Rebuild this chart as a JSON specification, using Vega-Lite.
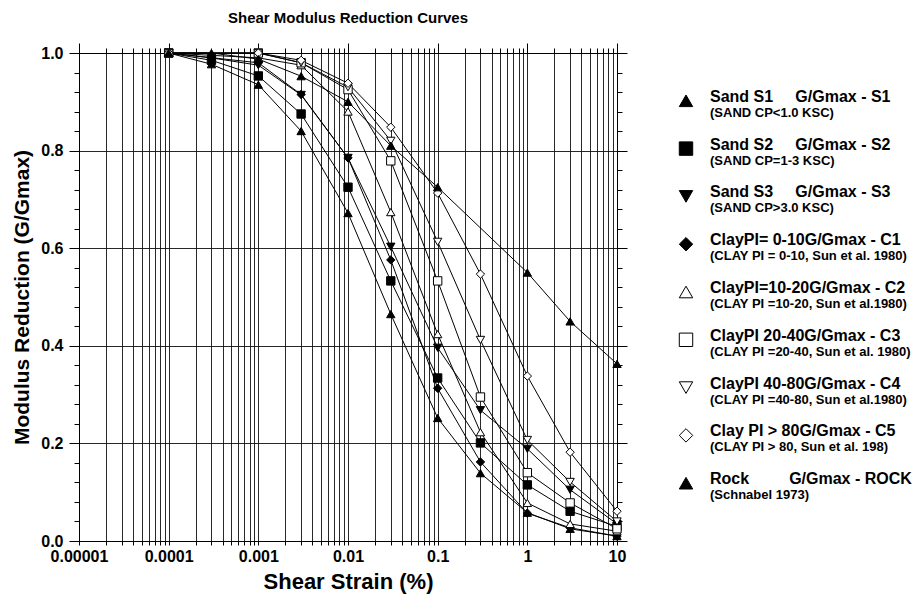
{
  "$schema": "https://vega.github.io/schema/vega-lite/v6.json",
  "background": "white",
  "padding": {"left": 11, "top": 10, "right": 5, "bottom": 4},
  "config": {"font": "Liberation Sans", "view": {"stroke": null}, "concat": {"spacing": 46}},
  "datasets": {
    "curves": [
      {"series": "S1", "strain": 0.0001, "G": 1.0}, {"series": "S1", "strain": 0.0003, "G": 0.977}, {"series": "S1", "strain": 0.001, "G": 0.935}, {"series": "S1", "strain": 0.003, "G": 0.84}, {"series": "S1", "strain": 0.01, "G": 0.672}, {"series": "S1", "strain": 0.03, "G": 0.465}, {"series": "S1", "strain": 0.1, "G": 0.252}, {"series": "S1", "strain": 0.3, "G": 0.139}, {"series": "S1", "strain": 1, "G": 0.058}, {"series": "S1", "strain": 3, "G": 0.025}, {"series": "S1", "strain": 10, "G": 0.01},
      {"series": "S2", "strain": 0.0001, "G": 1.0}, {"series": "S2", "strain": 0.0003, "G": 0.985}, {"series": "S2", "strain": 0.001, "G": 0.953}, {"series": "S2", "strain": 0.003, "G": 0.875}, {"series": "S2", "strain": 0.01, "G": 0.725}, {"series": "S2", "strain": 0.03, "G": 0.533}, {"series": "S2", "strain": 0.1, "G": 0.334}, {"series": "S2", "strain": 0.3, "G": 0.201}, {"series": "S2", "strain": 1, "G": 0.115}, {"series": "S2", "strain": 3, "G": 0.061}, {"series": "S2", "strain": 10, "G": 0.03},
      {"series": "S3", "strain": 0.0001, "G": 1.0}, {"series": "S3", "strain": 0.0003, "G": 0.99}, {"series": "S3", "strain": 0.001, "G": 0.975}, {"series": "S3", "strain": 0.003, "G": 0.914}, {"series": "S3", "strain": 0.01, "G": 0.785}, {"series": "S3", "strain": 0.03, "G": 0.603}, {"series": "S3", "strain": 0.1, "G": 0.396}, {"series": "S3", "strain": 0.3, "G": 0.268}, {"series": "S3", "strain": 1, "G": 0.189}, {"series": "S3", "strain": 3, "G": 0.105}, {"series": "S3", "strain": 10, "G": 0.035},
      {"series": "C1", "strain": 0.0001, "G": 1.0}, {"series": "C1", "strain": 0.001, "G": 0.98}, {"series": "C1", "strain": 0.003, "G": 0.915}, {"series": "C1", "strain": 0.01, "G": 0.785}, {"series": "C1", "strain": 0.03, "G": 0.576}, {"series": "C1", "strain": 0.1, "G": 0.313}, {"series": "C1", "strain": 0.3, "G": 0.162}, {"series": "C1", "strain": 1, "G": 0.057}, {"series": "C1", "strain": 3, "G": 0.027}, {"series": "C1", "strain": 10, "G": 0.01},
      {"series": "C2", "strain": 0.0001, "G": 1.0}, {"series": "C2", "strain": 0.001, "G": 0.99}, {"series": "C2", "strain": 0.003, "G": 0.975}, {"series": "C2", "strain": 0.01, "G": 0.88}, {"series": "C2", "strain": 0.03, "G": 0.674}, {"series": "C2", "strain": 0.1, "G": 0.424}, {"series": "C2", "strain": 0.3, "G": 0.223}, {"series": "C2", "strain": 1, "G": 0.078}, {"series": "C2", "strain": 3, "G": 0.035}, {"series": "C2", "strain": 10, "G": 0.02},
      {"series": "C3", "strain": 0.0001, "G": 1.0}, {"series": "C3", "strain": 0.001, "G": 1.0}, {"series": "C3", "strain": 0.003, "G": 0.98}, {"series": "C3", "strain": 0.01, "G": 0.925}, {"series": "C3", "strain": 0.03, "G": 0.779}, {"series": "C3", "strain": 0.1, "G": 0.533}, {"series": "C3", "strain": 0.3, "G": 0.295}, {"series": "C3", "strain": 1, "G": 0.14}, {"series": "C3", "strain": 3, "G": 0.078}, {"series": "C3", "strain": 10, "G": 0.025},
      {"series": "C4", "strain": 0.0001, "G": 1.0}, {"series": "C4", "strain": 0.001, "G": 1.0}, {"series": "C4", "strain": 0.003, "G": 0.98}, {"series": "C4", "strain": 0.01, "G": 0.93}, {"series": "C4", "strain": 0.03, "G": 0.82}, {"series": "C4", "strain": 0.1, "G": 0.613}, {"series": "C4", "strain": 0.3, "G": 0.412}, {"series": "C4", "strain": 1, "G": 0.207}, {"series": "C4", "strain": 3, "G": 0.121}, {"series": "C4", "strain": 10, "G": 0.04},
      {"series": "C5", "strain": 0.0001, "G": 1.0}, {"series": "C5", "strain": 0.001, "G": 1.0}, {"series": "C5", "strain": 0.003, "G": 0.985}, {"series": "C5", "strain": 0.01, "G": 0.938}, {"series": "C5", "strain": 0.03, "G": 0.848}, {"series": "C5", "strain": 0.1, "G": 0.713}, {"series": "C5", "strain": 0.3, "G": 0.547}, {"series": "C5", "strain": 1, "G": 0.338}, {"series": "C5", "strain": 3, "G": 0.182}, {"series": "C5", "strain": 10, "G": 0.061},
      {"series": "ROCK", "strain": 0.0001, "G": 1.0}, {"series": "ROCK", "strain": 0.0003, "G": 1.0}, {"series": "ROCK", "strain": 0.001, "G": 0.9875}, {"series": "ROCK", "strain": 0.003, "G": 0.9525}, {"series": "ROCK", "strain": 0.01, "G": 0.9}, {"series": "ROCK", "strain": 0.03, "G": 0.81}, {"series": "ROCK", "strain": 0.1, "G": 0.725}, {"series": "ROCK", "strain": 1, "G": 0.55}, {"series": "ROCK", "strain": 3, "G": 0.45}, {"series": "ROCK", "strain": 10, "G": 0.363}
    ],
    "legend": [
      {"series": "S1", "label": "Sand S1\u00a0\u00a0\u00a0\u00a0\u00a0G/Gmax - S1", "sub": "(SAND CP<1.0 KSC)"},
      {"series": "S2", "label": "Sand S2\u00a0\u00a0\u00a0\u00a0\u00a0G/Gmax - S2", "sub": "(SAND CP=1-3 KSC)"},
      {"series": "S3", "label": "Sand S3\u00a0\u00a0\u00a0\u00a0\u00a0G/Gmax - S3", "sub": "(SAND CP>3.0 KSC)"},
      {"series": "C1", "label": "ClayPI= 0-10G/Gmax - C1", "sub": "(CLAY PI = 0-10, Sun et al. 1980)"},
      {"series": "C2", "label": "ClayPI=10-20G/Gmax - C2", "sub": "(CLAY PI =10-20, Sun et al.1980)"},
      {"series": "C3", "label": "ClayPI 20-40G/Gmax - C3", "sub": "(CLAY PI =20-40, Sun et al. 1980)"},
      {"series": "C4", "label": "ClayPI 40-80G/Gmax - C4", "sub": "(CLAY PI =40-80, Sun et al.1980)"},
      {"series": "C5", "label": "Clay PI > 80G/Gmax - C5", "sub": "(CLAY PI > 80, Sun et al. 198)"},
      {"series": "ROCK", "label": "Rock\u00a0\u00a0\u00a0\u00a0\u00a0\u00a0\u00a0\u00a0\u00a0G/Gmax - ROCK", "sub": "(Schnabel 1973)"}
    ]
  },
  "hconcat": [
    {
      "width": 538,
      "height": 488,
      "title": {"text": "Shear Modulus Reduction Curves", "fontSize": 15, "fontWeight": "bold", "color": "black", "offset": 17, "anchor": "middle"},
      "data": {"name": "curves"},
      "resolve": {"axis": {"x": "independent", "y": "independent"}},
      "layer": [
        {
          "mark": {"type": "line", "color": "black", "strokeWidth": 1},
          "encoding": {
            "x": {
              "field": "strain", "type": "quantitative",
              "scale": {"type": "log", "domain": [0.00001, 10], "nice": false},
              "axis": {
                "orient": "bottom",
                "values": [0.00001,0.00002,0.00003,0.00004,0.00005,0.00006,0.00007,0.00008,0.00009,0.0001,0.0002,0.0003,0.0004,0.0005,0.0006,0.0007,0.0008,0.0009,0.001,0.002,0.003,0.004,0.005,0.006,0.007,0.008,0.009,0.01,0.02,0.03,0.04,0.05,0.06,0.07,0.08,0.09,0.1,0.2,0.3,0.4,0.5,0.6,0.7,0.8,0.9,1,2,3,4,5,6,7,8,9,10],
                "grid": true, "gridColor": "#111", "gridWidth": 1, "gridOpacity": 0.9,
                "domainColor": "black", "tickColor": "black", "tickSize": 4,
                "labelExpr": "indexof([0.00001,0.0001,0.001,0.01,0.1,1,10], datum.value) >= 0 ? format(datum.value, '~f') : ''",
                "labelFontSize": 16, "labelFontWeight": "bold", "labelColor": "black", "labelPadding": 3,
                "labelOverlap": false, "labelFlush": false, "labelBound": false,
                "title": "Shear Strain (%)", "titleFontSize": 22, "titleFontWeight": "bold", "titleColor": "black", "titlePadding": 7
              }
            },
            "y": {
              "field": "G", "type": "quantitative",
              "scale": {"domain": [0, 1], "nice": false, "zero": false},
              "axis": {
                "orient": "left",
                "values": [0,0.04,0.08,0.12,0.16,0.2,0.24,0.28,0.32,0.36,0.4,0.44,0.48,0.52,0.56,0.6,0.64,0.68,0.72,0.76,0.8,0.84,0.88,0.92,0.96,1],
                "grid": true, "gridColor": "#111", "gridWidth": 1,
                "gridOpacity": {"condition": {"test": "indexof([0,0.2,0.4,0.6,0.8,1], datum.value) >= 0", "value": 0.9}, "value": 0},
                "domainColor": "black", "tickColor": "black",
                "tickSize": {"condition": {"test": "indexof([0,0.2,0.4,0.6,0.8,1], datum.value) >= 0", "value": 10}, "value": 5},
                "labelExpr": "indexof([0,0.2,0.4,0.6,0.8,1], datum.value) >= 0 ? format(datum.value, '.1f') : ''",
                "labelFontSize": 16, "labelFontWeight": "bold", "labelColor": "black", "labelPadding": 6,
                "labelOverlap": false, "labelFlush": false, "labelBound": false,
                "title": "Modulus Reduction (G/Gmax)", "titleFontSize": 21, "titleFontWeight": "bold", "titleColor": "black", "titlePadding": 8
              }
            },
            "detail": {"field": "series"}
          }
        },
        {
          "mark": {"type": "point", "filled": true, "stroke": "black", "strokeWidth": 1, "size": 70, "opacity": 1},
          "encoding": {
            "x": {
              "field": "strain", "type": "quantitative",
              "axis": {
                "orient": "top",
                "values": [0.00001,0.00002,0.00003,0.00004,0.00005,0.00006,0.00007,0.00008,0.00009,0.0001,0.0002,0.0003,0.0004,0.0005,0.0006,0.0007,0.0008,0.0009,0.001,0.002,0.003,0.004,0.005,0.006,0.007,0.008,0.009,0.01,0.02,0.03,0.04,0.05,0.06,0.07,0.08,0.09,0.1,0.2,0.3,0.4,0.5,0.6,0.7,0.8,0.9,1,2,3,4,5,6,7,8,9,10],
                "grid": false, "labels": false, "title": null,
                "domainColor": "black", "tickColor": "black",
                "tickSize": {"condition": {"test": "indexof([0.00001,0.0001,0.001,0.01,0.1,1,10], datum.value) >= 0", "value": 10}, "value": 5}
              }
            },
            "y": {
              "field": "G", "type": "quantitative",
              "axis": {
                "orient": "right",
                "values": [0,0.04,0.08,0.12,0.16,0.2,0.24,0.28,0.32,0.36,0.4,0.44,0.48,0.52,0.56,0.6,0.64,0.68,0.72,0.76,0.8,0.84,0.88,0.92,0.96,1],
                "grid": false, "labels": false, "title": null,
                "domainColor": "black", "tickColor": "black",
                "tickSize": {"condition": {"test": "indexof([0,0.2,0.4,0.6,0.8,1], datum.value) >= 0", "value": 10}, "value": 5}
              }
            },
            "shape": {
              "field": "series", "type": "nominal",
              "scale": {"domain": ["S1","S2","S3","C1","C2","C3","C4","C5","ROCK"], "range": ["triangle-up","square","triangle-down","diamond","triangle-up","square","triangle-down","diamond","triangle-up"]},
              "legend": null
            },
            "fill": {
              "field": "series", "type": "nominal",
              "scale": {"domain": ["S1","S2","S3","C1","C2","C3","C4","C5","ROCK"], "range": ["black","black","black","black","white","white","white","white","black"]},
              "legend": null
            }
          }
        }
      ]
    },
    {
      "width": 24,
      "height": 478,
      "data": {"name": "legend"},
      "layer": [
        {
          "mark": {"type": "point", "filled": true, "stroke": "black", "strokeWidth": 1, "size": 180, "opacity": 1},
          "encoding": {
            "y": {"field": "series", "type": "nominal", "sort": null, "scale": {"type": "point", "padding": 1}, "axis": null},
            "shape": {
              "field": "series", "type": "nominal",
              "scale": {"domain": ["S1","S2","S3","C1","C2","C3","C4","C5","ROCK"], "range": ["triangle-up","square","triangle-down","diamond","triangle-up","square","triangle-down","diamond","triangle-up"]},
              "legend": null
            },
            "fill": {
              "field": "series", "type": "nominal",
              "scale": {"domain": ["S1","S2","S3","C1","C2","C3","C4","C5","ROCK"], "range": ["black","black","black","black","white","white","white","white","black"]},
              "legend": null
            }
          }
        },
        {
          "mark": {"type": "text", "align": "left", "baseline": "middle", "fontSize": 16, "fontWeight": "bold", "color": "black", "dx": 24, "dy": -4},
          "encoding": {
            "y": {"field": "series", "type": "nominal", "sort": null, "scale": {"type": "point", "padding": 1}, "axis": null},
            "text": {"field": "label"}
          }
        },
        {
          "mark": {"type": "text", "align": "left", "baseline": "middle", "fontSize": 13, "fontWeight": "bold", "color": "black", "dx": 24, "dy": 12},
          "encoding": {
            "y": {"field": "series", "type": "nominal", "sort": null, "scale": {"type": "point", "padding": 1}, "axis": null},
            "text": {"field": "sub"}
          }
        }
      ]
    }
  ]
}
